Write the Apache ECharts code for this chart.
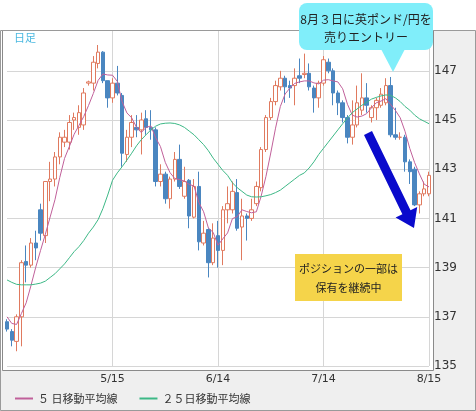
<!DOCTYPE html>
<html><head><meta charset="utf-8">
<script src="https://cdn.jsdelivr.net/npm/echarts@6/dist/echarts.min.js"></script>
<style>html,body{margin:0;padding:0;background:#fff}#c{width:476px;height:411px}</style>
</head><body><div id="c"></div>
<script>
// trading days 2017-04-13 .. 2017-08-15
const categories = (function(){const a=[];const d=new Date(2017,3,13);const e=new Date(2017,7,15);
  while(d<=e){const w=d.getDay();if(w!==0&&w!==6)a.push((d.getMonth()+1)+'/'+d.getDate());d.setDate(d.getDate()+1);}return a;})();
const tickLabels = ['5/15','6/14','7/14','8/15'];
const yTicks = [135,137,139,141,143,145,147];
const openV  = [136.8,136.4,136.0,137.0,139.25,139.1,140.0,141.35,140.3,142.5,142.6,143.5,144.1,144.1,145.0,144.7,144.8,146.5,146.5,147.3,147.76,146.6,145.9,146.5,146.0,143.6,144.3,144.7,144.6,145.05,144.7,144.6,142.5,142.8,141.8,142.6,143.4,141.9,142.55,141.05,142.3,140.0,140.55,139.2,140.3,139.7,141.35,141.35,142.05,140.65,141.1,141.0,141.6,142.25,143.8,145.1,145.75,146.35,146.7,146.4,146.4,146.8,146.85,146.9,146.3,145.9,146.5,147.35,147.0,146.1,145.7,145.1,144.3,144.8,145.4,145.9,145.1,145.5,145.6,145.7,146.4,144.4,144.3,144.3,143.3,143.0,141.55,142.0,142.0];
const closeV = [136.5,136.05,137.0,139.2,139.1,140.0,139.8,140.4,142.5,142.6,143.5,144.3,144.3,144.9,145.1,145.3,146.1,146.55,147.35,147.76,146.6,145.9,146.5,146.1,143.65,144.3,144.9,144.6,145.0,144.7,144.6,142.5,142.8,141.8,142.6,143.4,142.3,142.5,141.1,142.3,140.05,140.4,139.2,140.2,139.7,141.35,141.6,142.1,140.6,141.1,141.0,141.35,142.3,143.8,145.1,145.75,146.4,146.7,146.35,146.3,146.7,146.7,146.9,146.35,145.9,146.5,147.45,147.0,146.1,145.7,145.1,144.3,144.8,145.7,145.9,145.6,145.5,145.8,146.05,146.4,144.4,144.3,144.3,143.3,142.9,141.55,142.0,142.2,142.75];
const highV  = [136.9,136.5,137.1,139.3,139.9,140.2,140.5,141.6,142.5,143.3,143.7,144.5,144.6,145.2,145.3,145.6,146.3,146.6,147.6,148.05,147.8,146.6,146.7,147.2,146.1,144.6,145.2,145.2,145.3,145.4,145.4,144.7,143.2,142.9,142.7,143.7,144.0,143.1,142.6,142.6,142.9,140.9,140.6,140.8,140.9,141.5,142.3,142.5,142.6,141.8,141.2,141.8,142.5,143.9,145.2,145.9,146.6,147.0,146.8,146.6,147.1,147.5,147.7,147.3,146.4,146.6,147.6,147.5,147.1,146.2,145.8,145.2,145.8,146.4,146.9,146.5,145.6,145.9,146.3,146.7,146.75,145.5,144.5,144.4,143.4,143.1,142.1,142.5,142.9];
const lowV   = [136.4,135.8,135.6,135.8,138.4,139.0,139.3,140.1,140.0,141.7,142.3,143.2,143.9,143.8,144.6,144.4,144.6,146.4,146.2,147.1,146.5,145.5,145.7,146.0,143.1,143.3,143.9,144.3,143.6,144.4,144.2,142.3,142.3,141.6,141.4,142.5,142.2,141.8,140.6,141.0,139.7,139.9,138.6,139.1,139.0,139.1,140.8,141.2,140.5,139.3,140.1,140.9,141.5,142.1,143.7,145.0,145.6,146.2,145.7,145.9,145.6,146.5,146.7,146.2,145.3,145.5,146.4,146.9,145.6,145.2,144.9,144.05,144.0,144.7,145.2,145.3,144.9,145.0,145.5,145.6,144.3,144.2,144.2,142.9,142.4,141.5,141.2,141.9,141.9];
const priorCloses = [137.4,137.2,137.0,136.9];
const ma25 = [138.5,138.4,138.32,138.3,138.3,138.3,138.33,138.37,138.45,138.6,138.75,138.95,139.15,139.4,139.65,139.85,140.1,140.4,140.65,140.95,141.4,141.95,142.55,142.85,143.1,143.37,143.65,143.95,144.2,144.4,144.6,144.75,144.84,144.87,144.88,144.86,144.8,144.7,144.55,144.4,144.2,144.0,143.75,143.45,143.2,142.95,142.75,142.45,142.25,142.1,141.95,141.88,141.87,141.88,141.92,141.97,142.05,142.15,142.3,142.45,142.6,142.75,142.85,143.05,143.3,143.6,143.85,144.1,144.35,144.6,144.85,145.08,145.3,145.45,145.6,145.72,145.85,145.92,145.98,146.02,146.0,145.9,145.75,145.55,145.4,145.2,145.05,144.95,144.85];

const all = priorCloses.concat(closeV);
const ma5 = closeV.map((_,i)=>{let s=0;for(let k=0;k<5;k++)s+=all[i+4-k];return +(s/5).toFixed(3);});
const candle = closeV.map((c,i)=>[openV[i],c,lowV[i],highV[i]]);
const isLab = i => tickLabels.indexOf(categories[i])>=0;

const chart = echarts.init(document.getElementById('c'));
const font = '"Noto Sans CJK JP", sans-serif';
chart.setOption({
  animation:false,
  grid:{left:7,right:47,top:30,bottom:45},
  xAxis:{type:'category',data:categories,boundaryGap:false,
    axisLine:{show:false},axisTick:{show:false},
    axisLabel:{interval:(i)=>isLab(i),color:'#333',fontSize:11,fontFamily:'Verdana, "DejaVu Sans", sans-serif',margin:8},
    splitLine:{show:true,interval:(i)=>isLab(i),lineStyle:{color:'#d6d6d6'}}},
  yAxis:{type:'value',position:'right',min:135,max:148.66,interval:2,
    axisLine:{show:false},axisTick:{show:false},
    axisLabel:{showMaxLabel:false,color:'#333',fontSize:12,fontFamily:'Verdana, "DejaVu Sans", sans-serif',margin:5,
      formatter:v=>yTicks.indexOf(v)>=0?String(v):''},
    splitLine:{lineStyle:{color:'#d6d6d6'}}},
  legend:{bottom:2,left:10,itemWidth:18,itemHeight:2,itemGap:22,icon:'rect',
    textStyle:{fontSize:11,color:'#333',fontFamily:font},
    data:['５ 日移動平均線','２５日移動平均線']},
  series:[
    {type:'candlestick',data:candle,barWidth:4,clip:false,
      itemStyle:{color:'#ffffff',color0:'#4a86c0',borderColor:'#e07a5f',borderColor0:'#4a86c0',borderWidth:1}},
    {name:'５ 日移動平均線',type:'line',data:ma5,symbol:'none',lineStyle:{color:'#c0609a',width:1},itemStyle:{color:'#c0609a'},z:3},
    {name:'２５日移動平均線',type:'line',data:ma25,symbol:'none',lineStyle:{color:'#3db886',width:1},itemStyle:{color:'#3db886'},z:3}
  ],
  graphic:[
    {type:'rect',z:-10,shape:{x:0,y:370,width:476,height:41},style:{fill:'#efefef'}},
    {type:'rect',z:-10,shape:{x:433,y:30,width:43,height:340},style:{fill:'#efefef'}},
    {type:'rect',z:100,shape:{x:2.5,y:30.5,width:431,height:340},style:{fill:null,stroke:'#8a8a8a',lineWidth:1}},
    {type:'rect',z:100,shape:{x:0.5,y:30.5,width:475,height:380},style:{fill:null,stroke:'#9a9a9a',lineWidth:1}},
    {type:'text',z:100,left:14,top:32,style:{text:'日足',fill:'#4ab8e0',fontSize:11,fontFamily:font}},
    {type:'rect',z:100,shape:{x:299,y:3,width:134,height:47,r:8},style:{fill:'#80eefa'}},
    {type:'polygon',z:100,shape:{points:[[381,49],[405,49],[393,72]]},style:{fill:'#80eefa'}},
    {type:'text',z:101,x:366,y:19,style:{text:'8月３日に英ポンド/円を',fill:'#222',fontSize:12,fontFamily:font,align:'center',verticalAlign:'middle'}},
    {type:'text',z:101,x:366,y:37,style:{text:'売りエントリー',fill:'#222',fontSize:12,fontFamily:font,align:'center',verticalAlign:'middle'}},
    {type:'rect',z:100,shape:{x:295,y:254,width:107,height:47},style:{fill:'#f5d44a'}},
    {type:'text',z:101,x:348.5,y:269,style:{text:'ポジションの一部は',fill:'#222',fontSize:11,fontFamily:font,align:'center',verticalAlign:'middle'}},
    {type:'text',z:101,x:348.5,y:288,style:{text:'保有を継続中',fill:'#222',fontSize:11,fontFamily:font,align:'center',verticalAlign:'middle'}},
    {type:'polygon',z:100,shape:{points:[[372,131],[410.5,210.2],[417.2,207],[414,228],[395.6,217.4],[402.4,214.2],[364,135]]},style:{fill:'#0a0acc'}}
  ]
});
</script></body></html>
